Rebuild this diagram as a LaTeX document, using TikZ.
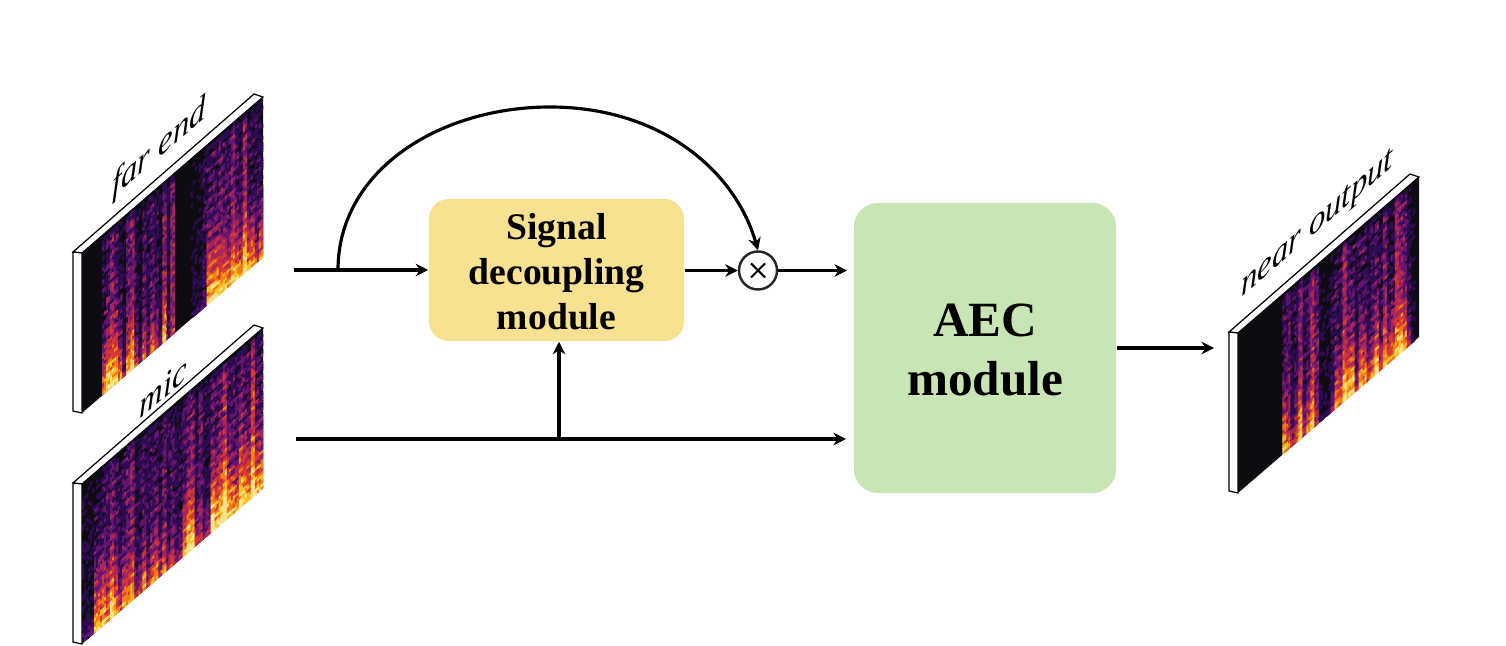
\documentclass[tikz,border=0pt]{standalone}
\usepackage{fontspec}
\setmainfont{Liberation Serif}
\usetikzlibrary{arrows.meta}
% spectrogram colours
\definecolor{sp0}{HTML}{0E0C12}
\definecolor{sp1}{HTML}{2F0B56}
\definecolor{sp2}{HTML}{65156E}
\definecolor{sp3}{HTML}{A8245A}
\definecolor{sp4}{HTML}{D83A30}
\definecolor{sp5}{HTML}{F57D15}
\definecolor{sp6}{HTML}{FAC127}
\definecolor{sp7}{HTML}{FBE58A}
\definecolor{decouplefill}{HTML}{F8E190}
\definecolor{aecfill}{HTML}{C9E5B4}
\tikzset{
	flow/.style = {line width = 0.9pt, -{Stealth[length = 1.25mm, width = 1.25mm, inset = 0.4mm]}},
	plain/.style = {line width = 0.6pt},
	face/.style = {fill = white, draw = black, line width = 0.35pt},
	module/.style = {rounded corners = 2mm, align = center, inner sep = 0pt},
	specname/.style = {yslant = 0.86, yscale = 1.08, transform shape, font = \fontsize{9.3pt}{11pt}\selectfont\itshape}
}
\pgfmathsetseed{7}
% #1: bottom left corner of the front face, #2: column list base/low
\newcommand{\specgram}[3]{
	\draw [face] (#1-9, #2-161) -- (#1, #2-160) -- (#1+181, #2-316) -- (#1+172, #2-319) -- cycle;
	\draw [face] (#1-9, #2-161) -- (#1, #2-160) -- (#1, #2) -- (#1-9, #2-2) -- cycle;
	\fill [sp0] (#1, #2-160) -- (#1+181, #2-316) -- (#1+181, #2-156) -- (#1, #2) -- cycle;
	\begin{scope}[shift = {(#1, #2)}, x = {(0.0201cm, 0.01725cm)}, y = {(0, 0.0302cm)}]
		\foreach \b/\l [count = \c from 0] in {#3} {
			\foreach \s in {0, 1} {
				\foreach \r in {0, ..., 52} {
					\pgfmathsetmacro\v{\r/53}
					\pgfmathtruncatemacro\k{7*min(1, max(0, (\b/9*(0.9-0.25*\v)+0.74*\l/9*max(0, 1-\v/(0.08+0.07*\l))^2+0.1*sin(\r*100)*\l/9+(0.3*rnd-0.15)*min(1, (\b+\l)/3))*min(1, (1-\v)/0.06)))}
					\ifnum\k>0
						\fill [sp\k] (2*\c+\s, \r) -- ++(1.2, 0) -- ++(0, 1.2) -- ++(-1.2, 0) -- cycle;
					\fi
				}
			}
		}
	\end{scope}
}
\begin{document}
\begin{tikzpicture}[x = 0.01cm, y = -0.01cm]
	\useasboundingbox (0, 0) rectangle (1506, 646);
	% spectrograms
	\specgram{82}{413}{0/1,0/1,0/1,0/1,0/1,2/8,3/9,5/7,3/9,2/7,1/3,4/6,5/7,2/5,1/3,3/6,2/3,3/6,2/5,1/3,5/6,1/3,5/1,0/0,0/0,0/0,0/0,1/1,1/2,1/2,2/1,3/9,3/9,3/9,4/7,3/8,3/7,5/6,3/8,2/8,6/6,2/8,2/8,2/5,2/8}
	\specgram{82}{644}{1/2,1/2,1/3,2/9,2/9,3/9,3/7,4/9,3/7,2/5,3/7,4/5,5/6,2/4,2/5,3/7,2/4,3/6,3/7,2/5,4/5,2/3,3/4,2/3,2/3,3/7,4/9,5/7,2/5,4/3,2/3,2/4,4/9,3/9,4/9,6/9,3/9,3/8,3/7,4/9,3/9,3/8,7/7,3/8,3/8}
	\specgram{1238}{493}{0/0,0/0,0/0,0/0,0/0,0/0,0/0,0/0,0/0,0/0,0/0,3/8,4/5,2/4,3/5,5/7,2/4,3/6,6/5,4/2,1/1,1/1,1/1,2/3,3/7,2/7,6/6,3/9,3/9,2/4,3/8,3/7,2/5,3/6,3/9,2/5,5/6,2/7,2/8,6/5,5/7,4/6,2/4,1/1,0/0}
	% labels on the spectrograms
	\node [specname] (farname) at (159, 149) {far end};
	\node [specname] (micname) at (163, 388) {mic};
	\node [specname] (nearname) at (1317, 226) {near output};
	% modules
	\node [module, fill = decouplefill, minimum width = 2.55cm, minimum height = 1.42cm, font = \fontsize{10.7pt}{12.8pt}\selectfont\bfseries] (decouple) at (556.5, 270) {\rule{0pt}{8.3pt}Signal\\decoupling\\module};
	\node [module, fill = aecfill, minimum width = 2.62cm, minimum height = 2.9cm, rounded corners = 2.4mm, font = \fontsize{14pt}{17pt}\selectfont\bfseries] (aec) at (985, 348) {\rule{0pt}{10.4pt}AEC\\module};
	\node [draw = black!85, circle, line width = 0.7pt, minimum size = 0.38cm, inner sep = 0pt] (mult) at (758, 270.5) {};
	\draw [plain] (mult.center) +(-7, -7) -- +(7, 7);
	\draw [plain] (mult.center) +(-7, 7) -- +(7, -7);
	% free ends
	\coordinate (farin) at (294, 270);
	\coordinate (micin) at (296, 439);
	\coordinate (micout) at (846, 439);
	\coordinate (tapfar) at (338, 270);
	\coordinate (tapmic) at (559, 439);
	\coordinate (arctop) at (550, 107);
	\coordinate (multout) at (847, 270);
	\coordinate (output) at (1214, 348);
	% connectors
	\draw [flow] (farin) -- (decouple.west |- farin);
	\draw [flow] (decouple.east |- mult) -- (mult.west);
	\draw [flow] (mult.east) -- (multout |- mult.east);
	\draw [flow] (micin) -- (micout);
	\draw [flow] (tapmic) -- (tapmic |- decouple.south);
	\draw [flow] (aec.east) -- (output);
	\draw [flow] (tapfar) .. controls (338, 170) and (440, 107) .. (arctop) .. controls (660, 107) and (735, 170) .. (mult.north);
\end{tikzpicture}
\end{document}
